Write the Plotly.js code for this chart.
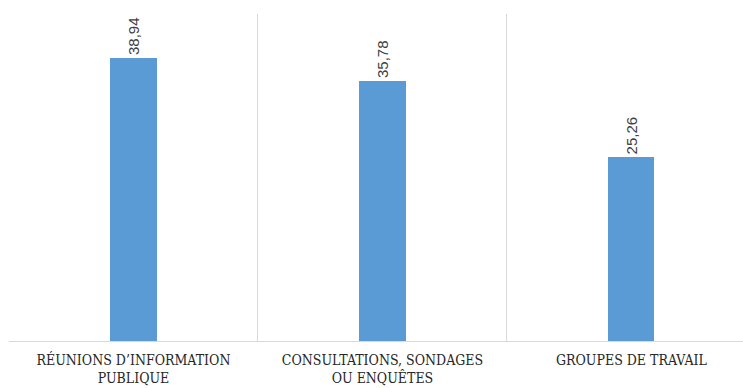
<!DOCTYPE html>
<html><head><meta charset="utf-8">
<script src="https://cdn.plot.ly/plotly-3.0.1.min.js"></script>
<style>html,body{margin:0;padding:0;background:#fff}</style>
</head><body>
<div id="chart" style="width:743px;height:388px"></div>
<script>
const categories = ["RÉUNIONS D’INFORMATION<br>PUBLIQUE", "CONSULTATIONS, SONDAGES<br>OU ENQUÊTES", "GROUPES DE TRAVAIL"];
const values = [38.94, 35.78, 25.26];

const trace = {
  type: 'bar',
  x: categories,
  y: values,
  marker: {color: '#5b9bd5'},
  width: 0.185,
  texttemplate: '%{y:.2f}',
  textposition: 'outside',
  textangle: -90,
  cliponaxis: false,
  textfont: {family: "Liberation Sans", size: 15, color: '#404040'},
  hoverinfo: 'none'
};

const layout = {
  width: 743, height: 388,
  margin: {l: 9, r: 0, t: 14, b: 47},
  separators: ', ',
  paper_bgcolor: '#fff', plot_bgcolor: '#fff',
  showlegend: false,
  bargap: 0,
  xaxis: {
    type: 'category',
    range: [-0.5, 2.448],
    tickson: 'boundaries',
    showgrid: true, gridcolor: '#d9d9d9', gridwidth: 1,
    ticks: '', showline: true, linecolor: '#d9d9d9', linewidth: 1,
    ticklabelstandoff: 6,
    tickfont: {family: "DejaVu Serif Condensed, DejaVu Serif", size: 14, color: '#262626'},
    fixedrange: true
  },
  yaxis: {
    range: [0, 45],
    showgrid: false, zeroline: false, showticklabels: false, ticks: '',
    fixedrange: true
  }
};

Plotly.newPlot('chart', [trace], layout, {displayModeBar: false, staticPlot: true});
</script>
</body></html>
